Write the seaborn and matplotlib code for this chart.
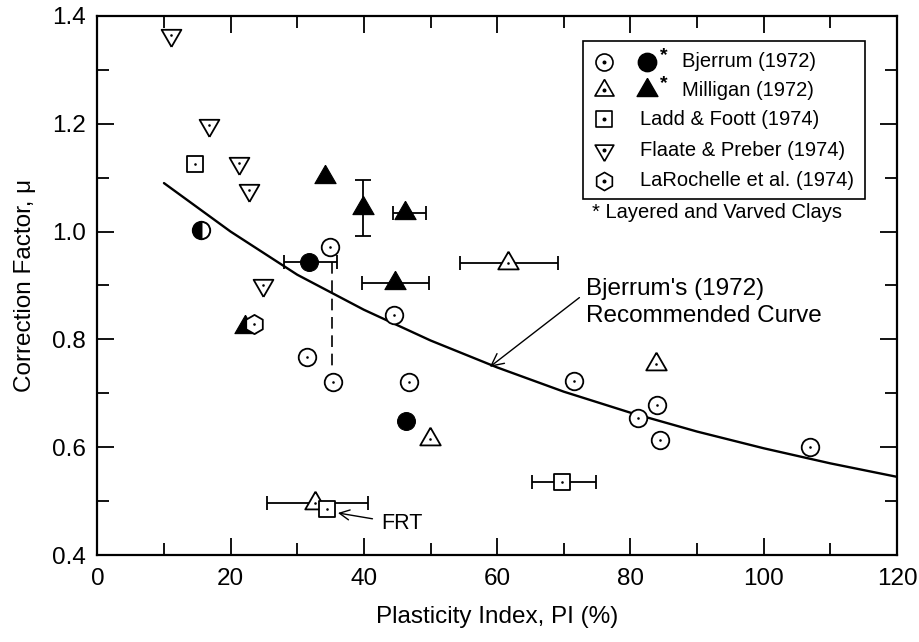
import matplotlib
matplotlib.use("Agg")
import matplotlib.pyplot as plt
from matplotlib.patches import Rectangle
from matplotlib.ticker import MultipleLocator, FormatStrFormatter
import seaborn as sns

# Bjerrum (1972) - open symbols
bjerrum_pi = [34.9, 44.5, 31.5, 35.3, 46.7, 71.6, 81.1, 84.0, 84.5, 107.0]
bjerrum_mu = [0.971, 0.845, 0.767, 0.721, 0.721, 0.723, 0.654, 0.678, 0.613, 0.600]
# Bjerrum (1972) - layered / varved clays (filled)
bjerrum_lv_pi = [31.8, 46.3]
bjerrum_lv_mu = [0.944, 0.649]
bjerrum_half_pi = [15.6]
bjerrum_half_mu = [1.003]

# Milligan (1972)
milligan_pi = [32.7, 49.9, 61.6, 83.8]
milligan_mu = [0.497, 0.615, 0.942, 0.754]
milligan_lv_pi = [34.2, 39.8, 46.2, 44.6, 22.1]
milligan_lv_mu = [1.101, 1.044, 1.034, 0.905, 0.823]

# Ladd & Foott (1974)
ladd_pi = [14.6, 34.4, 69.8]
ladd_mu = [1.125, 0.485, 0.535]

# Flaate & Preber (1974)
flaate_pi = [11.0, 16.8, 21.2, 22.8, 24.9]
flaate_mu = [1.365, 1.198, 1.127, 1.077, 0.901]

# LaRochelle et al. (1974)
laroch_pi = [23.5]
laroch_mu = [0.829]

# horizontal ranges of PI: centre PI, mu, PI low, PI high
xerr_pi = [31.8, 32.7, 61.6, 46.2, 44.6, 69.8]
xerr_mu = [0.944, 0.497, 0.942, 1.034, 0.905, 0.535]
xerr_lo = [28.0, 25.4, 54.4, 44.4, 39.7, 65.3]
xerr_hi = [35.9, 40.6, 69.1, 49.3, 49.7, 74.9]
# vertical range of mu
yerr_pi = [39.8]
yerr_mu = [1.044]
yerr_lo = [0.992]
yerr_hi = [1.096]

# dashed link between the two Bjerrum values for one site
link_pi = [35.2, 35.2]
link_mu = [0.943, 0.742]

# Bjerrum's recommended curve
curve_pi = [10, 20, 30, 40, 50, 60, 70, 80, 90, 100, 110, 120]
curve_mu = [1.09, 1.00, 0.92, 0.855, 0.798, 0.748, 0.703, 0.664, 0.629, 0.598, 0.570, 0.545]

sns.set_style("ticks")
plt.rcParams["font.family"] = ["Liberation Sans", "DejaVu Sans"]
plt.rcParams["text.color"] = "black"
plt.rcParams["axes.labelcolor"] = "black"
plt.rcParams["xtick.color"] = "black"
plt.rcParams["ytick.color"] = "black"

TRI_UP = [(0, 1), (-0.866, -0.5), (0.866, -0.5), (0, 1)]
TRI_DN = [(0, -1), (-0.866, 0.5), (0.866, 0.5), (0, -1)]


def open_pts(ax, x, y, marker, s, z=4):
    sns.scatterplot(x=x, y=y, marker=marker, s=s, facecolor="white",
                    edgecolor="black", linewidth=1.3, ax=ax, zorder=z)
    sns.scatterplot(x=x, y=y, marker="o", s=3.5, color="black",
                    edgecolor="black", linewidth=0, ax=ax, zorder=z + 0.1)


def main():
    fig = plt.figure(figsize=(9.19, 6.42), dpi=100)
    ax = fig.add_axes([0.1059, 0.1355, 0.8702, 0.8396])

    # curve
    sns.lineplot(x=curve_pi, y=curve_mu, color="black", linewidth=1.7,
                 ax=ax, zorder=2)

    # error bars
    for x, y, lo, hi in zip(xerr_pi, xerr_mu, xerr_lo, xerr_hi):
        ax.errorbar([x], [y], xerr=[[x - lo], [hi - x]], fmt="none",
                    ecolor="black", elinewidth=1.3, capsize=5, capthick=1.3,
                    zorder=3)
    for x, y, lo, hi in zip(yerr_pi, yerr_mu, yerr_lo, yerr_hi):
        ax.errorbar([x], [y], yerr=[[y - lo], [hi - y]], fmt="none",
                    ecolor="black", elinewidth=1.3, capsize=6, capthick=1.3,
                    zorder=3)
    ax.plot(link_pi, link_mu, color="black", linewidth=1.2,
            linestyle=(0, (7, 4)), zorder=2)

    # filled symbols
    sns.scatterplot(x=milligan_lv_pi, y=milligan_lv_mu, marker=TRI_UP, s=310,
                    color="black", edgecolor="black", linewidth=0.8, ax=ax,
                    zorder=4)
    sns.scatterplot(x=bjerrum_lv_pi, y=bjerrum_lv_mu, marker="o", s=165,
                    color="black", edgecolor="black", linewidth=0.8, ax=ax,
                    zorder=4)
    ax.plot(bjerrum_half_pi, bjerrum_half_mu, linestyle="none", marker="o",
            markersize=12.5, fillstyle="left", markerfacecolor="black",
            markerfacecoloralt="white", markeredgecolor="black",
            markeredgewidth=1.4, zorder=4)

    # open symbols
    open_pts(ax, bjerrum_pi, bjerrum_mu, "o", 160)
    open_pts(ax, milligan_pi, milligan_mu, TRI_UP, 290)
    open_pts(ax, flaate_pi, flaate_mu, TRI_DN, 270)
    open_pts(ax, ladd_pi, ladd_mu, "s", 125, z=5)
    open_pts(ax, laroch_pi, laroch_mu, "h", 190, z=5)

    # annotations
    ax.annotate("Bjerrum's (1972)\nRecommended Curve", xy=(58.9, 0.749),
                xytext=(73.4, 0.914), fontsize=17.5, va="top", ha="left",
                linespacing=1.3,
                arrowprops=dict(arrowstyle="->", color="black", lw=1.0,
                                shrinkA=0, shrinkB=0, mutation_scale=22,
                                relpos=(-0.03, 0.6)))
    ax.annotate("FRT", xy=(36.1, 0.478), xytext=(42.6, 0.458), fontsize=15.5,
                va="center", ha="left",
                arrowprops=dict(arrowstyle="->", color="black", lw=1.0,
                                shrinkA=4, shrinkB=0, mutation_scale=18))

    # legend box drawn by hand (two-symbol rows)
    T = ax.transAxes
    ax.add_patch(Rectangle((0.607, 0.660), 0.353, 0.294, transform=T,
                           facecolor="white", edgecolor="black", lw=1.2,
                           zorder=6))
    rows = [0.915, 0.862, 0.808, 0.751, 0.694]
    leg_open = ["o", TRI_UP, "s", TRI_DN, "h"]
    leg_size = [150, 250, 120, 240, 170]
    for yr, mk, sz in zip(rows, leg_open, leg_size):
        ax.scatter([0.634], [yr], marker=mk, s=sz, facecolor="white",
                   edgecolor="black", linewidth=1.2, transform=T, zorder=7,
                   clip_on=False)
        ax.scatter([0.634], [yr], marker="o", s=3.5, color="black",
                   transform=T, zorder=8, clip_on=False)
    ax.scatter([0.687], [rows[0]], marker="o", s=175, color="black",
               transform=T, zorder=7)
    ax.scatter([0.687], [rows[1]], marker=TRI_UP, s=300, color="black",
               transform=T, zorder=7)
    for yr in rows[:2]:
        ax.text(0.704, yr + 0.012, "*", transform=T, fontsize=14,
                fontweight="bold", ha="left", va="center", zorder=8)
    labels = ["Bjerrum (1972)", "Milligan (1972)", "Ladd & Foott (1974)",
              "Flaate & Preber (1974)", "LaRochelle et al. (1974)"]
    for i, (yr, lab) in enumerate(zip(rows, labels)):
        ax.text(0.731 if i < 2 else 0.679, yr, lab, transform=T,
                fontsize=14.5, ha="left", va="center", zorder=8)
    ax.text(0.618, 0.635, "* Layered and Varved Clays", transform=T,
            fontsize=14.5, ha="left", va="center")

    # axes styling
    ax.set_xlim(0, 120)
    ax.set_ylim(0.4, 1.4)
    ax.xaxis.set_major_locator(MultipleLocator(20))
    ax.xaxis.set_minor_locator(MultipleLocator(10))
    ax.yaxis.set_major_locator(MultipleLocator(0.2))
    ax.yaxis.set_minor_locator(MultipleLocator(0.1))
    ax.yaxis.set_major_formatter(FormatStrFormatter("%.1f"))
    ax.tick_params(which="both", direction="in", top=True, right=True,
                   width=1.3, colors="black", labelsize=17.5)
    ax.tick_params(which="major", length=12)
    ax.tick_params(which="minor", length=8.5)
    ax.tick_params(axis="x", pad=9)
    ax.tick_params(axis="y", pad=8)
    for sp in ax.spines.values():
        sp.set_linewidth(1.6)
        sp.set_color("black")
        sp.set_visible(True)
    ax.set_xlabel("Plasticity Index, PI (%)", fontsize=17.5, labelpad=12)
    ax.set_ylabel("Correction Factor, \u03bc", fontsize=17.5, labelpad=12)

    fig.savefig("out.png", dpi=100, facecolor="white")


if __name__ == "__main__":
    main()
